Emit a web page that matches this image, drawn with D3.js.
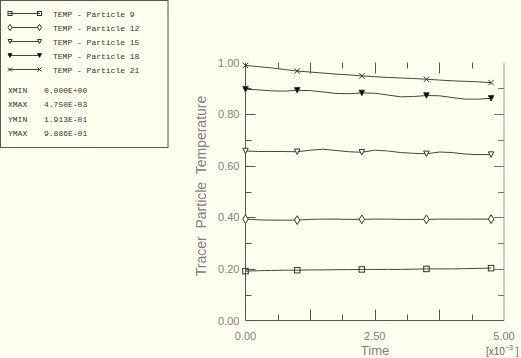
<!DOCTYPE html>
<html><head><meta charset="utf-8">
<script src="https://cdn.jsdelivr.net/npm/d3@7/dist/d3.min.js"></script>
<style>
html,body{margin:0;padding:0;background:#fffff0;}
svg{display:block;}
</style></head>
<body>
<svg id="chart" width="521" height="358"></svg>
<script>
// ---- data (time in units of 1e-3) ----
const times = [0, 0.25, 0.5, 0.75, 1.0, 1.25, 1.5, 1.75, 2.0, 2.25, 2.5, 2.75, 3.0, 3.25, 3.5, 3.75, 4.0, 4.25, 4.5, 4.75];
const markerTimes = [0, 1.0, 2.25, 3.5, 4.75];
const p9  = [0.1913, 0.193, 0.194, 0.195, 0.195, 0.196, 0.196, 0.197, 0.197, 0.198, 0.198, 0.198, 0.198, 0.199, 0.200, 0.200, 0.200, 0.201, 0.202, 0.203];
const p12 = [0.393, 0.390, 0.389, 0.389, 0.389, 0.392, 0.393, 0.393, 0.392, 0.392, 0.393, 0.393, 0.392, 0.392, 0.392, 0.393, 0.393, 0.393, 0.393, 0.393];
const p15 = [0.657, 0.655, 0.655, 0.655, 0.654, 0.660, 0.664, 0.659, 0.654, 0.652, 0.660, 0.657, 0.651, 0.648, 0.646, 0.653, 0.651, 0.645, 0.643, 0.643];
const p18 = [0.896, 0.894, 0.890, 0.889, 0.892, 0.891, 0.886, 0.880, 0.879, 0.882, 0.881, 0.874, 0.867, 0.868, 0.872, 0.871, 0.864, 0.858, 0.858, 0.861];
const p21 = [0.9886, 0.984, 0.979, 0.973, 0.967, 0.963, 0.959, 0.955, 0.952, 0.948, 0.945, 0.942, 0.940, 0.938, 0.935, 0.932, 0.929, 0.927, 0.925, 0.922];
const seriesNames = ["TEMP - Particle 9", "TEMP - Particle 12", "TEMP - Particle 15", "TEMP - Particle 18", "TEMP - Particle 21"];
const seriesValues = [p9, p12, p15, p18, p21];
const seriesMarkers = ["square", "diamond", "tri", "trifill", "cross"];
const xTickLabels = ["0.00", "2.50", "5.00"];
const yTickLabels = ["0.00", "0.20", "0.40", "0.60", "0.80", "1.00"];
const statNames = ["XMIN", "XMAX", "YMIN", "YMAX"];
const statValues = ["0.000E+00", "4.750E-03", "1.913E-01", "9.886E-01"];

// ---- layout ----
const svg = d3.select("#chart");
svg.append("rect").attr("width", 521).attr("height", 358).attr("fill", "#fffff0");
const x = d3.scaleLinear().domain([0, 5]).range([245.5, 504]);
const y = d3.scaleLinear().domain([0, 1]).range([320.5, 62.5]);
const ink = "#333";
const axisCol = "#555";
const labelCol = "#808080";

function marker(g, type, cx, cy, s) {
  if (type === "square") {
    g.append("rect").attr("x", cx - s/2).attr("y", cy - s/2).attr("width", s).attr("height", s)
      .attr("fill", "none").attr("stroke", ink).attr("stroke-width", 1);
  } else if (type === "diamond") {
    g.append("path").attr("d", `M${cx},${cy - s*0.8}L${cx + s/2},${cy}L${cx},${cy + s*0.8}L${cx - s/2},${cy}Z`)
      .attr("fill", "#fffff0").attr("stroke", ink).attr("stroke-width", 1);
  } else if (type === "tri" || type === "trifill") {
    g.append("path").attr("d", `M${cx - s/2},${cy - s/2}L${cx + s/2},${cy - s/2}L${cx},${cy + s/2}Z`)
      .attr("fill", type === "trifill" ? "#000" : "#fffff0").attr("stroke", ink).attr("stroke-width", 1);
  } else if (type === "cross") {
    g.append("path").attr("d", `M${cx - s/2},${cy - s/2}L${cx + s/2},${cy + s/2}M${cx - s/2},${cy + s/2}L${cx + s/2},${cy - s/2}`)
      .attr("fill", "none").attr("stroke", ink).attr("stroke-width", 1);
  }
}

// ---- axes frame ----
const frame = svg.append("g");
frame.append("line").attr("x1", x(0)).attr("x2", x(0)).attr("y1", y(0)).attr("y2", y(1)).attr("stroke", axisCol);
frame.append("line").attr("x1", x(0)).attr("x2", x(5)).attr("y1", y(0)).attr("y2", y(0)).attr("stroke", axisCol);
frame.append("line").attr("x1", x(5)).attr("x2", x(5)).attr("y1", y(0)).attr("y2", y(1)).attr("stroke", "#999");

// x ticks (bottom up, top down) every 0.625, major every 1.25
const xt = d3.range(1, 8).map(i => i * 0.625);
xt.forEach((v, i) => {
  const len = (i % 2 === 1) ? 11 : 6;
  frame.append("line").attr("x1", Math.round(x(v)) + 0.5).attr("x2", Math.round(x(v)) + 0.5)
    .attr("y1", y(0)).attr("y2", y(0) - len).attr("stroke", axisCol);
  frame.append("line").attr("x1", Math.round(x(v)) + 0.5).attr("x2", Math.round(x(v)) + 0.5)
    .attr("y1", y(1)).attr("y2", y(1) + len).attr("stroke", axisCol);
});
// y ticks every 0.1, major every 0.2
d3.range(1, 10).map(i => i / 10).forEach((v, i) => {
  const len = (i % 2 === 1) ? 10 : 6;
  const yy = Math.round(y(v)) + 0.5;
  frame.append("line").attr("x1", x(0)).attr("x2", x(0) + len).attr("y1", yy).attr("y2", yy).attr("stroke", axisCol);
  frame.append("line").attr("x1", x(5)).attr("x2", x(5) - len).attr("y1", yy).attr("y2", yy).attr("stroke", "#777");
});

// tick labels
const tf = "Liberation Sans, Arial, sans-serif";
xTickLabels.forEach(t => {
  svg.append("text").attr("x", x(+t)).attr("y", 340).attr("text-anchor", "middle")
    .attr("font-family", tf).attr("font-size", 11).attr("fill", labelCol).text(t);
});
yTickLabels.forEach(t => {
  svg.append("text").attr("x", 239.5).attr("y", y(+t) + 4).attr("text-anchor", "end")
    .attr("font-family", tf).attr("font-size", 11).attr("fill", labelCol).text(t);
});
svg.append("text").attr("x", 375).attr("y", 355).attr("text-anchor", "middle")
  .attr("font-family", tf).attr("font-size", 13).attr("fill", labelCol).text("Time");
const ex = svg.append("text").attr("x", 486).attr("y", 355)
  .attr("font-family", tf).attr("font-size", 10).attr("fill", "#666");
ex.append("tspan").text("[x10");
ex.append("tspan").attr("dy", -5).attr("font-size", 7).text("−3");
ex.append("tspan").attr("dy", 5).text(" ]");
svg.append("text").attr("transform", "translate(206,186) rotate(-90)").attr("text-anchor", "middle")
  .attr("font-family", tf).attr("font-size", 14).attr("fill", labelCol)
  .attr("xml:space", "preserve").style("white-space", "pre").text("Tracer  Particle  Temperature");

// ---- series ----
const line = d3.line().x((d, i) => x(times[i])).y(d => y(d));
seriesValues.forEach((vals, k) => {
  const g = svg.append("g");
  g.append("path").attr("d", line(vals)).attr("fill", "none").attr("stroke", "#444").attr("stroke-width", 1);
  markerTimes.forEach(mt => {
    const i = times.indexOf(mt);
    marker(g, seriesMarkers[k], x(times[i]), y(vals[i]), 5.5);
  });
});

// ---- legend box ----
const lg = svg.append("g");
lg.append("rect").attr("x", 0.5).attr("y", 0.5).attr("width", 167.5).attr("height", 147)
  .attr("fill", "#fffff0").attr("stroke", "#555").attr("stroke-width", 1);
const mono = "Liberation Mono, Courier New, monospace";
seriesNames.forEach((name, k) => {
  const yy = 13.5 + k * 14;
  lg.append("line").attr("x1", 8.5).attr("x2", 40).attr("y1", yy).attr("y2", yy).attr("stroke", "#444");
  marker(lg, seriesMarkers[k], 10, yy, 4);
  marker(lg, seriesMarkers[k], 39.5, yy, 4);
  lg.append("text").attr("x", 53).attr("y", yy + 3).attr("font-family", mono).attr("font-size", 8)
    .attr("fill", "#333").attr("xml:space", "preserve").style("white-space", "pre").text(name);
});
statNames.forEach((n, k) => {
  const yy = 90 + k * 14.3;
  lg.append("text").attr("x", 8).attr("y", yy + 3).attr("font-family", mono).attr("font-size", 8).attr("fill", "#333").text(n);
  lg.append("text").attr("x", 44).attr("y", yy + 3).attr("font-family", mono).attr("font-size", 8).attr("fill", "#333").text(statValues[k]);
});
</script>
</body></html>
